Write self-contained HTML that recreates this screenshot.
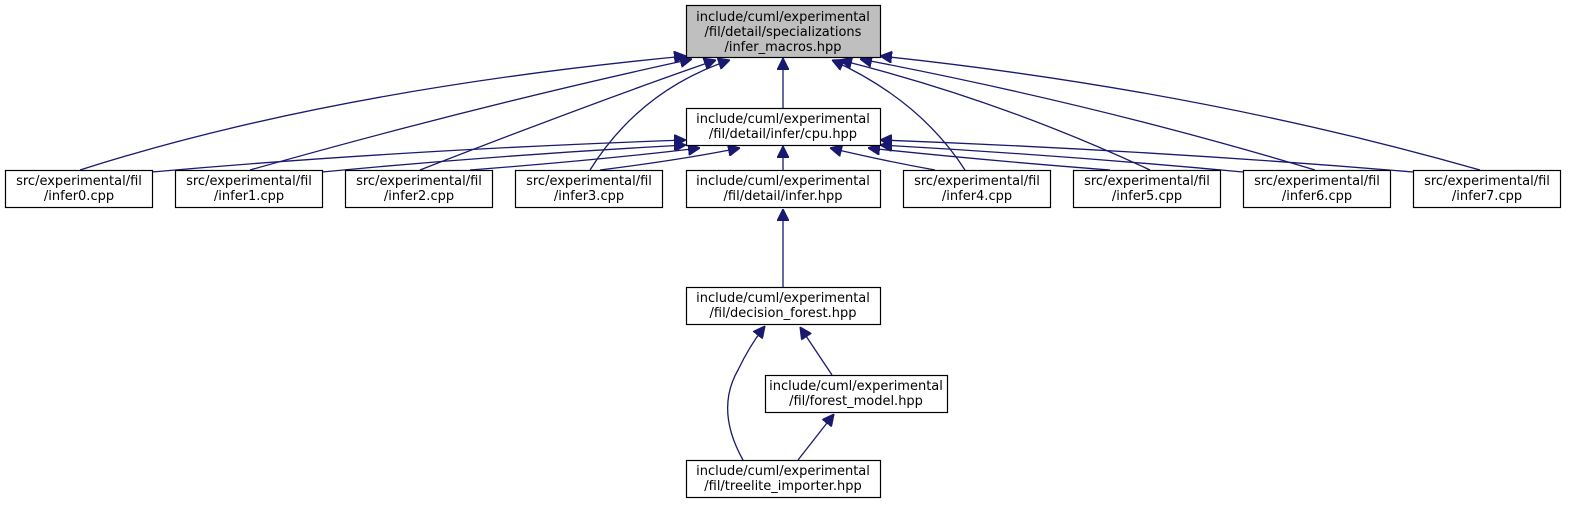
<!DOCTYPE html>
<html><head><meta charset="utf-8"><style>
html,body{margin:0;padding:0;background:#fff;}
svg{display:block;}
text{font-family:"DejaVu Sans","Liberation Sans",sans-serif;font-size:13px;fill:#000;text-anchor:middle;}
.b{fill:#fff;stroke:#000;stroke-width:1.2;}
.e{fill:none;stroke:#191970;stroke-width:1.3;}
</style></head><body>
<svg width="1583" height="513" viewBox="0 0 1583 513" xmlns="http://www.w3.org/2000/svg">
<defs><marker id="a" viewBox="0 0 10 10" refX="10" refY="5" markerWidth="12" markerHeight="12" markerUnits="userSpaceOnUse" orient="auto"><path d="M0,0 L10,5 L0,10 z" fill="#191970" stroke="#191970"/></marker></defs>
<!-- edges to top -->
<path class="e" marker-end="url(#a)" d="M80,170 Q330,90 686,56"/>
<path class="e" marker-end="url(#a)" d="M250,170 Q480,105 692,59"/>
<path class="e" marker-end="url(#a)" d="M420,170 Q600,100 716,60"/>
<path class="e" marker-end="url(#a)" d="M590,170 Q640,90 730,60"/>
<path class="e" marker-end="url(#a)" d="M783,108 L783,58"/>
<path class="e" marker-end="url(#a)" d="M965,170 Q920,100 832,60"/>
<path class="e" marker-end="url(#a)" d="M1150,170 Q1000,100 840,60"/>
<path class="e" marker-end="url(#a)" d="M1315,170 Q1100,105 860,59"/>
<path class="e" marker-end="url(#a)" d="M1480,170 Q1200,90 880,56"/>
<!-- edges to cpu -->
<path class="e" marker-end="url(#a)" d="M152,172 Q400,150 686,140"/>
<path class="e" marker-end="url(#a)" d="M322,172 Q500,155 686,145"/>
<path class="e" marker-end="url(#a)" d="M470,170 Q600,160 700,148"/>
<path class="e" marker-end="url(#a)" d="M600,170 Q680,160 740,148"/>
<path class="e" marker-end="url(#a)" d="M783,170 L783,146"/>
<path class="e" marker-end="url(#a)" d="M935,170 Q880,160 830,148"/>
<path class="e" marker-end="url(#a)" d="M1110,170 Q980,160 868,148"/>
<path class="e" marker-end="url(#a)" d="M1243,172 Q1060,155 880,145"/>
<path class="e" marker-end="url(#a)" d="M1413,172 Q1150,150 880,140"/>
<!-- lower -->
<path class="e" marker-end="url(#a)" d="M783,287 L783,209"/>
<path class="e" marker-end="url(#a)" d="M743,460 Q715,410 738,370 Q750,345 765,326"/>
<path class="e" marker-end="url(#a)" d="M832,375 L800,327"/>
<path class="e" marker-end="url(#a)" d="M798,460 L834,414"/>
<!-- nodes -->
<rect x="686.5" y="5.5" width="194" height="52" fill="#bfbfbf" stroke="#000" stroke-width="1.2"/>
<text x="783" y="21">include/cuml/experimental</text>
<text x="783" y="36">/fil/detail/specializations</text>
<text x="783" y="51">/infer_macros.hpp</text>
<rect class="b" x="686.5" y="108.5" width="194" height="37"/>
<text x="783" y="123">include/cuml/experimental</text>
<text x="783" y="138">/fil/detail/infer/cpu.hpp</text>
<rect class="b" x="5.5" y="170.5" width="147" height="37"/><text x="79" y="185">src/experimental/fil</text><text x="79" y="200">/infer0.cpp</text>
<rect class="b" x="175.5" y="170.5" width="147" height="37"/><text x="249" y="185">src/experimental/fil</text><text x="249" y="200">/infer1.cpp</text>
<rect class="b" x="345.5" y="170.5" width="147" height="37"/><text x="419" y="185">src/experimental/fil</text><text x="419" y="200">/infer2.cpp</text>
<rect class="b" x="515.5" y="170.5" width="147" height="37"/><text x="589" y="185">src/experimental/fil</text><text x="589" y="200">/infer3.cpp</text>
<rect class="b" x="686.5" y="170.5" width="194" height="37"/><text x="783" y="185">include/cuml/experimental</text><text x="783" y="200">/fil/detail/infer.hpp</text>
<rect class="b" x="903.5" y="170.5" width="147" height="37"/><text x="977" y="185">src/experimental/fil</text><text x="977" y="200">/infer4.cpp</text>
<rect class="b" x="1073.5" y="170.5" width="147" height="37"/><text x="1147" y="185">src/experimental/fil</text><text x="1147" y="200">/infer5.cpp</text>
<rect class="b" x="1243.5" y="170.5" width="147" height="37"/><text x="1317" y="185">src/experimental/fil</text><text x="1317" y="200">/infer6.cpp</text>
<rect class="b" x="1413.5" y="170.5" width="147" height="37"/><text x="1487" y="185">src/experimental/fil</text><text x="1487" y="200">/infer7.cpp</text>
<rect class="b" x="686.5" y="287.5" width="194" height="37"/><text x="783" y="302">include/cuml/experimental</text><text x="783" y="317">/fil/decision_forest.hpp</text>
<rect class="b" x="765.5" y="375.5" width="182" height="37"/><text x="856" y="390">include/cuml/experimental</text><text x="856" y="405">/fil/forest_model.hpp</text>
<rect class="b" x="686.5" y="460.5" width="194" height="37"/><text x="783" y="475">include/cuml/experimental</text><text x="783" y="490">/fil/treelite_importer.hpp</text>
</svg>
</body></html>
